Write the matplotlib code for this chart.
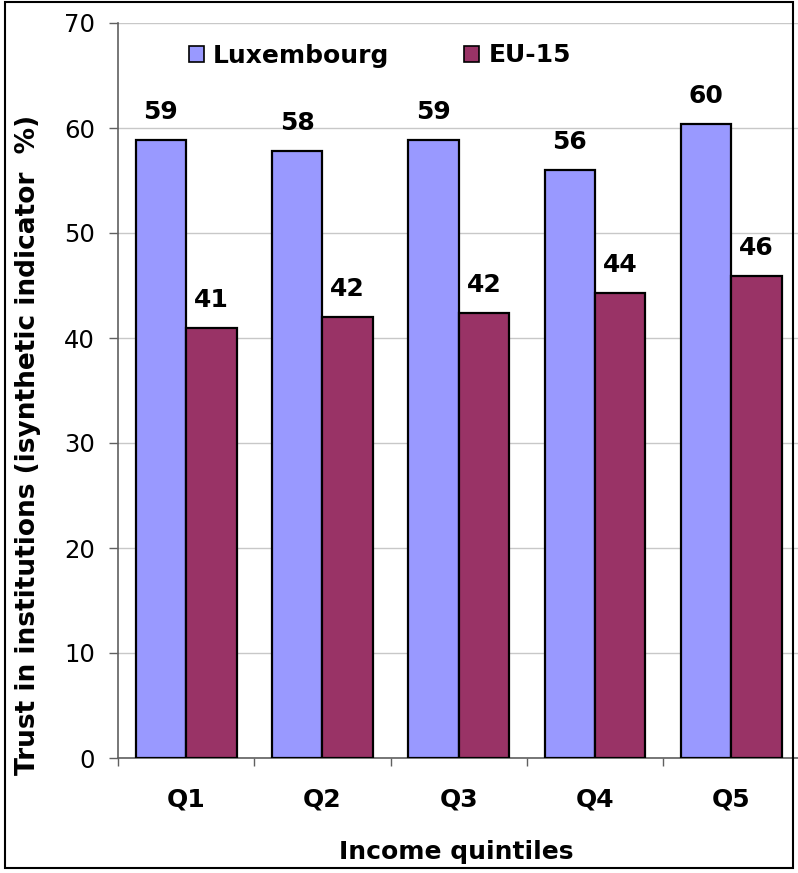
import matplotlib
matplotlib.use("Agg")
import matplotlib.pyplot as plt
from matplotlib.patches import Rectangle, Patch
import numpy as np

plt.rcParams['font.family'] = ['DejaVu Sans']

# data: trust in institutions by income quintile
quintiles = ['Q1', 'Q2', 'Q3', 'Q4', 'Q5']
luxembourg = [58.9, 57.8, 58.9, 56.0, 60.4]
eu15 = [41.0, 42.0, 42.4, 44.3, 45.9]
series_names = ['Luxembourg', 'EU-15']
colors = ['#9999FF', '#993366']

W, H = 798, 873
fig = plt.figure(figsize=(W / 100, H / 100), dpi=100)
ax = fig.add_axes([118 / W, 115 / H, 681.5 / W, 735 / H])

x = np.arange(len(quintiles))
bar_w = 0.37
bars_lux = ax.bar(x - bar_w / 2, luxembourg, width=bar_w, color=colors[0],
                  edgecolor='black', linewidth=1.6, zorder=3)
bars_eu = ax.bar(x + bar_w / 2, eu15, width=bar_w, color=colors[1],
                 edgecolor='black', linewidth=1.6, zorder=3)

# value labels above each bar
for bars in (bars_lux, bars_eu):
    for b in bars:
        h = b.get_height()
        ax.annotate(f'{h:.0f}', (b.get_x() + b.get_width() / 2, h),
                    xytext=(0, 20), textcoords='offset points',
                    ha='center', va='center', fontsize=18, fontweight='bold')

ax.set_xlim(-0.5, 4.5)
ax.set_ylim(0, 70)
ax.set_yticks(np.arange(0, 71, 10))
ax.tick_params(axis='y', direction='out', length=6.5, width=1, color='#606060',
               labelsize=17.5, pad=10)
ax.yaxis.grid(True, color='#C8C8C8', linewidth=1, zorder=0)

ax.set_xticks(x)
ax.set_xticklabels(quintiles, fontsize=18, fontweight='bold')
ax.set_xticks(np.arange(-0.5, 5, 1), minor=True)
ax.tick_params(axis='x', which='major', length=0, pad=21)
ax.tick_params(axis='x', which='minor', direction='out', length=6, width=1, color='#606060')

for s in ('top', 'right'):
    ax.spines[s].set_visible(False)
for s in ('left', 'bottom'):
    ax.spines[s].set_color('#606060')
    ax.spines[s].set_linewidth(1.2)

handles = [Patch(facecolor=c, edgecolor='black', linewidth=1.2) for c in colors]
fig.legend(handles, series_names, loc='center left', ncol=2, frameon=False,
           bbox_to_anchor=(189 / W, 1 - 55.5 / H), bbox_transform=fig.transFigure,
           prop={'size': 18, 'weight': 'bold'}, handlelength=0.6, handleheight=0.6,
           handletextpad=0.36, columnspacing=3.0, borderpad=0, borderaxespad=0)

fig.text(28 / W, 1 - 445 / H, 'Trust in institutions (isynthetic indicator  %)',
         rotation=90, ha='center', va='center', fontsize=19, fontweight='bold')
fig.text(456 / W, 1 - 852 / H, 'Income quintiles', ha='center', va='center',
         fontsize=18, fontweight='bold')

# outer frame
fig.patches.append(Rectangle((5 / W, 5 / H), 788 / W, 866 / H, transform=fig.transFigure,
                             fill=False, edgecolor='black', linewidth=1.5, zorder=10))

fig.savefig('out.png', dpi=100)
